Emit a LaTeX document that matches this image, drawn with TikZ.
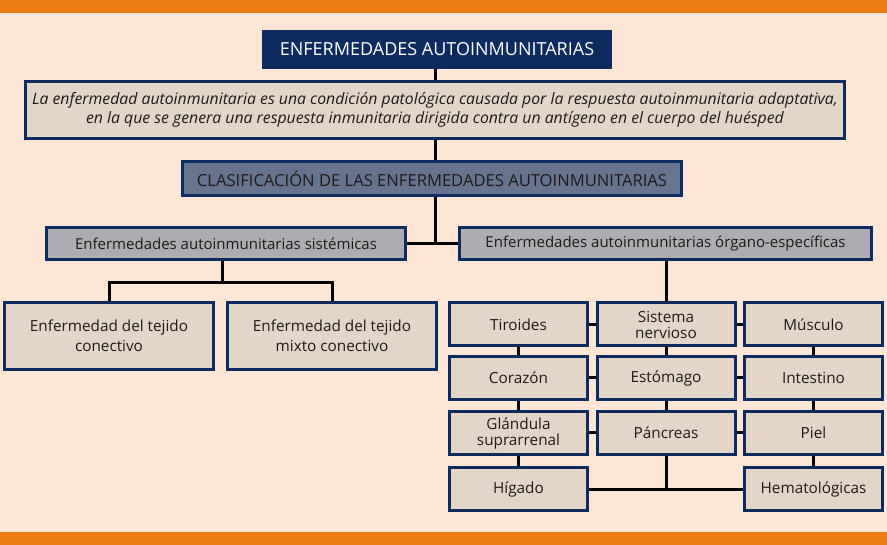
\documentclass[tikz,border=0pt]{standalone}
\usepackage{fontspec}
\setmainfont{Open Sans}
\definecolor{navy}{HTML}{0D2B5E}
\definecolor{boxfill}{HTML}{E3D5C8}
\definecolor{bg}{HTML}{FDE6D6}
\definecolor{orng}{HTML}{EF7B17}
\definecolor{classfill}{HTML}{67748F}
\definecolor{subfill}{HTML}{AEABB1}
\definecolor{txt}{HTML}{1E1A1A}
\tikzset{
  bx/.style={draw=navy, line width=3pt, fill=boxfill, text=txt, align=center, inner sep=0pt, font=\fontsize{15.3}{16}\selectfont},
  cellbx/.style={bx, minimum width=138pt, minimum height=43pt},
  bigbx/.style={bx, minimum width=209pt, minimum height=67pt, font=\fontsize{15.3}{20}\selectfont},
  conn/.style={draw=black, line width=3pt},
}
\begin{document}
\begin{tikzpicture}[x=1pt,y=-1pt]
\useasboundingbox (0,0) rectangle (887,545);
\fill[bg] (0,0) rectangle (887,545);
\fill[orng] (0,0) rectangle (887,13);
\fill[orng] (0,532) rectangle (887,545);
\coordinate (vx) at (435,0);
% nodes
\node[fill=navy, text=white, minimum width=350pt, minimum height=39pt, inner sep=0pt, font=\fontsize{18}{20}\selectfont] (title) at (437,49.5) {ENFERMEDADES AUTOINMUNITARIAS};
\node[bx, minimum width=819pt, minimum height=57pt, font=\fontsize{15.8}{19.3}\selectfont\itshape] (def) at (435,110) {La enfermedad autoinmunitaria es una condición patológica causada por la respuesta autoinmunitaria adaptativa,\\en la que se genera una respuesta inmunitaria dirigida contra un antígeno en el cuerpo del huésped};
\node[bx, fill=classfill, minimum width=499pt, minimum height=34pt, font=\fontsize{16.6}{18}\selectfont] (class) at (432,178.5) {CLASIFICACIÓN DE LAS ENFERMEDADES AUTOINMUNITARIAS};
\node[bx, fill=subfill, minimum width=359pt, minimum height=32pt, font=\fontsize{15}{17}\selectfont] (sys) at (226,243.5) {Enfermedades autoinmunitarias sistémicas};
\node[bx, fill=subfill, minimum width=412pt, minimum height=32pt, font=\fontsize{15}{17}\selectfont] (org) at (665.5,243.5) {Enfermedades autoinmunitarias órgano-específicas};
\node[bigbx] (ct1) at (109,336) {Enfermedad del tejido\\conectivo};
\node[bigbx] (ct2) at (332,336) {Enfermedad del tejido\\mixto conectivo};
% grid
\node[cellbx] (tir) at (518.5,324.5) {Tiroides};
\node[cellbx] (sn)  at (666,324.5) {Sistema\\nervioso};
\node[cellbx] (mus) at (813.5,324.5) {Músculo};
\node[cellbx] (cor) at (518.5,378) {Corazón};
\node[cellbx] (est) at (666,378) {Estómago};
\node[cellbx] (int) at (813.5,378) {Intestino};
\node[cellbx] (gla) at (518.5,433) {Glándula\\suprarrenal};
\node[cellbx] (pan) at (666,433) {Páncreas};
\node[cellbx] (pie) at (813.5,433) {Piel};
\node[cellbx] (hig) at (518.5,489) {Hígado};
\node[cellbx] (hem) at (813.5,489) {Hematológicas};
% connectors
\draw[conn] (title.south -| vx) -- (def.north -| vx);
\draw[conn] (def.south -| vx) -- (class.north -| vx);
\draw[conn] (class.south -| vx) -- (sys.east -| vx);
\draw[conn] (sys.east) -- (org.west);
\draw[conn] (sys.south -| 222,0) -- (222,283);
\draw[conn] (ct1.north) -- ++(0,-18) -| (ct2.north);
\draw[conn] (org.south -| sn.north) -- (sn.north);
\draw[conn] (tir.east) -- (sn.west);
\draw[conn] (sn.east) -- (mus.west);
\draw[conn] (cor.east) -- (est.west);
\draw[conn] (est.east) -- (int.west);
\draw[conn] (gla.east) -- (pan.west);
\draw[conn] (pan.east) -- (pie.west);
\draw[conn] (tir.south) -- (cor.north);
\draw[conn] (cor.south) -- (gla.north);
\draw[conn] (gla.south) -- (hig.north);
\draw[conn] (sn.south) -- (est.north);
\draw[conn] (est.south) -- (pan.north);
\draw[conn] (pan.south) -- (pan.south |- hig.east);
\draw[conn] (hig.east) -- (hem.west);
\draw[conn] (mus.south) -- (int.north);
\draw[conn] (int.south) -- (pie.north);
\draw[conn] (pie.south) -- (hem.north);
\end{tikzpicture}
\end{document}
